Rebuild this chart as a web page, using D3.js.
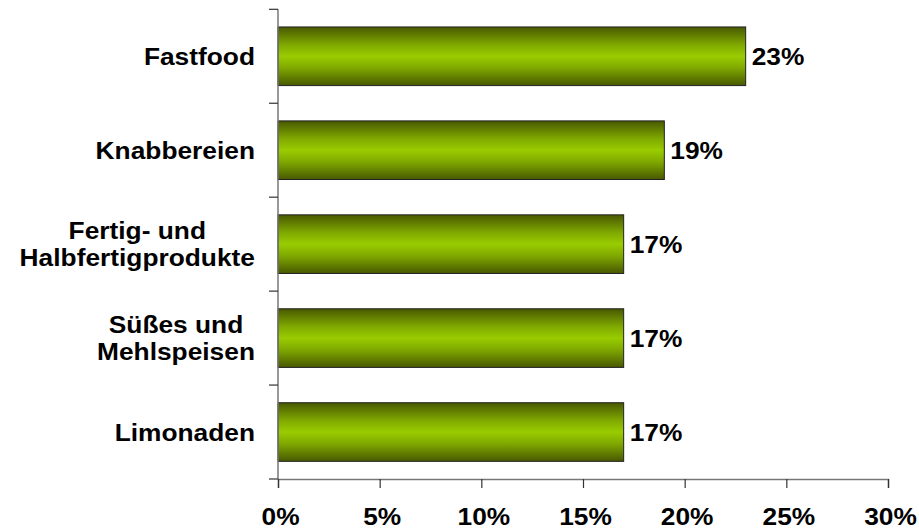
<!DOCTYPE html>
<html>
<head>
<meta charset="utf-8">
<script src="https://cdn.jsdelivr.net/npm/d3@7"></script>
<style>
  body { margin: 0; background: #fff; }
  text { font-family: "Liberation Sans", Arial, sans-serif; font-weight: bold; fill: #000; }
</style>
</head>
<body>
<svg id="chart" width="919" height="532"></svg>
<script>
const categories = [["Fastfood"], ["Knabbereien"], ["Fertig- und", "Halbfertigprodukte"], ["Süßes und", "Mehlspeisen"], ["Limonaden"]];
const values = [23, 19, 17, 17, 17];
const tickValues = [0, 5, 10, 15, 20, 25, 30];
const tickLabels = ["0%", "5%", "10%", "15%", "20%", "25%", "30%"];

(function () {
const svg = d3.select("#chart");
const pLeft = 278, pRight = 888, pTop = 9.3, pBottom = 479;
const fs = 23.5, sx = 1.12;

const x = d3.scaleLinear().domain([0, 30]).range([pLeft, pRight]);
const keys = categories.map((c, i) => i);
const y = d3.scaleBand().domain(keys).range([pTop, pBottom]).paddingInner(0.376).paddingOuter(0.188);

const defs = svg.append("defs");
const grad = defs.append("linearGradient").attr("id", "barGrad").attr("x1", 0).attr("y1", 0).attr("x2", 0).attr("y2", 1);
[[0, "#485800"], [0.3, "#7fa800"], [0.5, "#99cc00"], [0.7, "#7fa800"], [1, "#485800"]].forEach(([o, c]) =>
  grad.append("stop").attr("offset", o).attr("stop-color", c));

// bars
svg.selectAll("rect.bar").data(values).enter().append("rect")
  .attr("class", "bar")
  .attr("x", x(0))
  .attr("y", (d, i) => y(i))
  .attr("width", d => x(d) - x(0))
  .attr("height", y.bandwidth())
  .attr("fill", "url(#barGrad)")
  .attr("stroke", "#222")
  .attr("stroke-width", 1);

// y axis
svg.append("line").attr("x1", pLeft).attr("x2", pLeft).attr("y1", pTop).attr("y2", pBottom)
  .attr("stroke", "#777").attr("stroke-width", 1.5);
d3.range(categories.length + 1).forEach(i => {
  const yy = pTop + i * (pBottom - pTop) / categories.length;
  svg.append("line").attr("x1", pLeft - 9).attr("x2", pLeft).attr("y1", yy).attr("y2", yy)
    .attr("stroke", "#333").attr("stroke-width", 1.2);
});

// x axis
const xAxis = d3.axisBottom(x).tickValues(tickValues).tickSize(9).tickFormat((d, i) => tickLabels[i]);
const gx = svg.append("g").attr("transform", `translate(0,${pBottom})`).call(xAxis);
gx.select(".domain").attr("stroke", "#777").attr("stroke-width", 1.5);
gx.selectAll(".tick line").attr("stroke", "#333").attr("stroke-width", 1.2);
gx.selectAll(".tick text").remove();
gx.selectAll(".tick").append("text")
  .attr("text-anchor", "middle")
  .attr("transform", `translate(2,46) scale(${sx},1)`)
  .style("font-size", fs + "px")
  .text((d, i) => tickLabels[i]);

// category labels
const labelRight = 255;
categories.forEach((lines, i) => {
  const cy = y(i) + y.bandwidth() / 2;
  const lh = 27.5;
  const g = svg.append("g");
  const texts = lines.map(ln => g.append("text")
    .style("font-size", fs + "px")
    .attr("text-anchor", "middle")
    .text(ln));
  const maxW = d3.max(texts, t => t.node().getComputedTextLength()) * sx;
  const cx = labelRight - maxW / 2;
  const n = lines.length;
  texts.forEach((t, j) => {
    const by = cy + 8.5 + (j - (n - 1) / 2) * lh;
    t.attr("transform", `translate(${cx},${by}) scale(${sx},1)`);
  });
});

// value labels
svg.selectAll("text.val").data(values).enter().append("text")
  .attr("class", "val")
  .style("font-size", fs + "px")
  .attr("transform", (d, i) => `translate(${x(d) + 6},${y(i) + y.bandwidth() / 2 + 8.5}) scale(${sx},1)`)
  .text(d => d + "%");
})();
</script>
</body>
</html>
